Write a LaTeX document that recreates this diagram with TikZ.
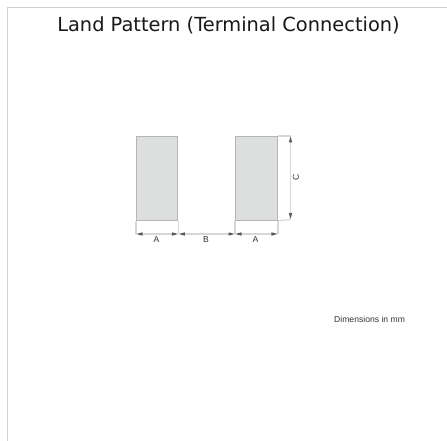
\documentclass[tikz,border=0pt]{standalone}
\usepackage{fontspec}
\setmainfont{Liberation Sans}
\newfontfamily\titlefont{DejaVu Sans}
\usetikzlibrary{arrows.meta}
\definecolor{padfill}{RGB}{221,223,223}
\definecolor{padedge}{RGB}{180,182,182}
\definecolor{dimline}{RGB}{215,215,215}
\definecolor{framecol}{RGB}{208,208,208}
\tikzset{
  x=1pt,y=-1pt,
  pad/.style={draw=padedge,fill=padfill,line width=1.4pt},
  ext/.style={draw=dimline,line width=1.2pt},
  dimen/.style={draw=dimline,line width=1.2pt,{Triangle[black!65,length=6.5pt,width=3pt]}-{Triangle[black!65,length=6.5pt,width=3pt]}},
  lab/.style={font=\fontsize{8.6}{10}\selectfont,text=black!80,inner sep=0pt},
}
\begin{document}
\begin{tikzpicture}
\useasboundingbox (0,0) rectangle (447,441);
\fill[white] (0,0) rectangle (447,441);
\draw[framecol,line width=1.5pt] (7.5,441) -- (7.5,7.5) -- (447,7.5);
\node[font=\titlefont\fontsize{19.4}{24}\selectfont,text=black!90,anchor=base,inner sep=0pt] (title) at (228.5,31.5) {Land Pattern (Terminal Connection)};
\node[pad,minimum width=41pt,minimum height=83.5pt,inner sep=0pt,anchor=north west] (padl) at (136,136) {};
\node[pad,minimum width=41.5pt,minimum height=83.5pt,inner sep=0pt,anchor=north west] (padr) at (235,136) {};
\coordinate (a1) at (padl.south west|-0,234);
\coordinate (a2) at (padl.south east|-0,234);
\coordinate (a3) at (padr.south west|-0,234);
\coordinate (a4) at (padr.south east|-0,234);
\coordinate (c1) at (290.5,136);
\coordinate (c2) at (290.5,219.5);
\draw[ext] (padl.south west) -- (a1);
\draw[ext] (padl.south east) -- (a2);
\draw[ext] (padr.south west) -- (a3);
\draw[ext] (padr.south east) -- (a4);
\draw[ext] (padr.north east) -- (c1);
\draw[ext] (padr.south east) -- (c2);
\draw[dimen] (a1) -- (a2);
\draw[dimen] (a2) -- (a3);
\draw[dimen] (a3) -- (a4);
\draw[dimen] (c1) -- (c2);
\node[lab] (la1) at (156.5,240) {A};
\node[lab] (lb) at (206,240) {B};
\node[lab] (la2) at (255.5,240) {A};
\node[lab,rotate=90] (lc) at (296,177) {C};
\node[lab,anchor=west] (note) at (334,319) {Dimensions in mm};
\end{tikzpicture}
\end{document}
